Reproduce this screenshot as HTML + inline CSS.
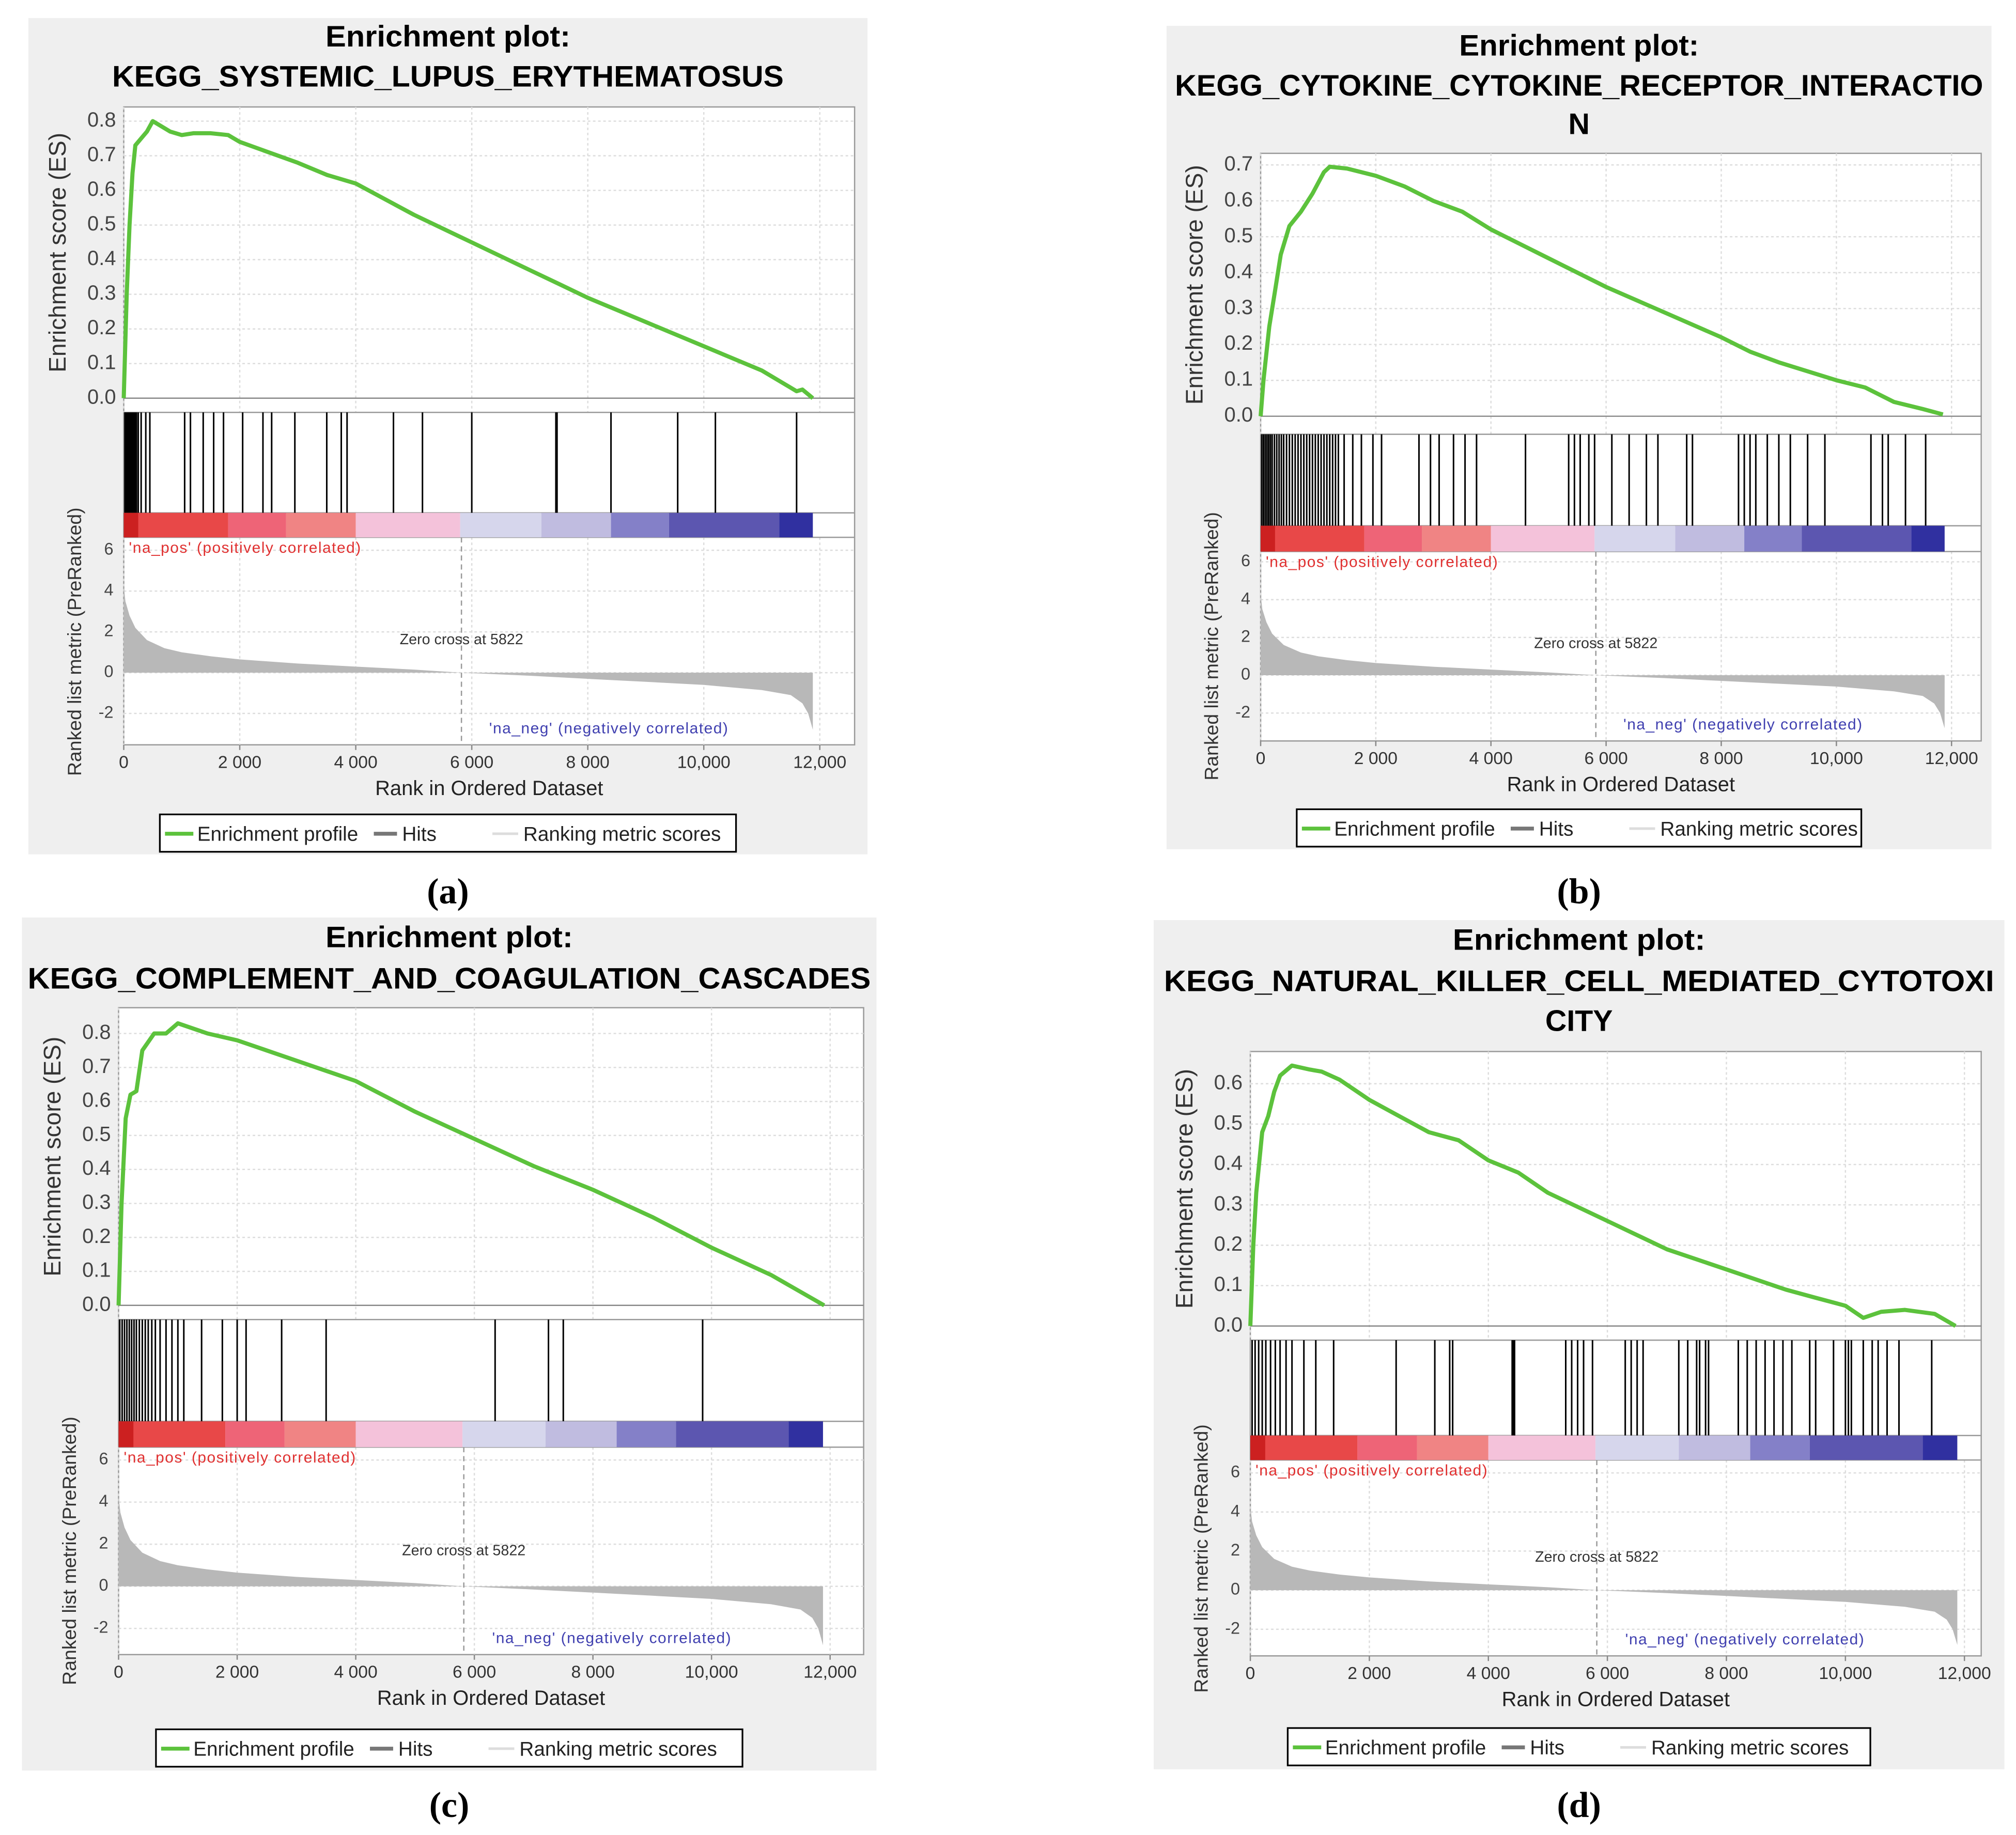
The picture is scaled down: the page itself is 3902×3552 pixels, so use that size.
<!DOCTYPE html>
<html><head><meta charset="utf-8"><style>
html,body{margin:0;padding:0;background:#fff}
svg{display:block}
text{font-family:"Liberation Sans",sans-serif}
text.cap{font-family:"Liberation Serif",serif}
</style></head><body>
<svg id="fig" width="3902" height="3552" viewBox="0 0 1564 1424" preserveAspectRatio="none" xmlns="http://www.w3.org/2000/svg"></svg>
<script>
// ---- data ----
const metricRanks=[0,30,100,200,400,700,1000,1500,2000,3000,4000,5000,5822,7000,8000,9000,10000,11000,11500,11700,11800,11880];
const metricVals=[4.3,3.5,2.8,2.2,1.6,1.2,1.0,0.8,0.65,0.45,0.3,0.15,0,-0.15,-0.3,-0.45,-0.6,-0.85,-1.1,-1.5,-2.0,-2.8];
const barStarts=[0,1800,2800,4000,5800,7200,8400,9400,11300];
const barEnds=[1800,2800,4000,5800,7200,8400,9400,11300,11880];
const barColors=["#e84848","#ee6477","#f08484","#f4c2da","#d6d6ec","#c0bce0","#8480c8","#5c56b0","#3030a0"];
const xTicks=[0,2000,4000,6000,8000,10000,12000];
const xTickLabels=["0","2 000","4 000","6 000","8 000","10,000","12,000"];
const metricTicks=[6,4,2,0,-2];

const esRankA=[0,50,100,150,200,300,400,500,800,1000,1200,1500,1800,2000,2500,3000,3500,4000,5000,6000,7000,7500,8000,9000,10000,11000,11600,11700,11880];
const esValA=[0,0.3,0.5,0.65,0.73,0.75,0.77,0.8,0.77,0.76,0.765,0.765,0.76,0.74,0.71,0.68,0.645,0.62,0.53,0.45,0.37,0.33,0.29,0.22,0.15,0.08,0.02,0.025,0];
const hitsA=[20,40,60,80,100,120,140,160,180,200,220,250,300,380,450,1050,1150,1370,1550,1720,2050,2400,2550,2950,3500,3750,3850,4650,5150,6000,7450,7470,8400,9550,10200,11600];
const esTicksA=[0,0.1,0.2,0.3,0.4,0.5,0.6,0.7,0.8];

const esRankB=[0,50,150,250,350,500,700,900,1100,1200,1500,2000,2500,3000,3500,4000,5000,6000,7000,8000,8500,9000,10000,10500,11000,11500,11850];
const esValB=[0,0.1,0.25,0.35,0.45,0.53,0.57,0.62,0.68,0.695,0.69,0.67,0.64,0.6,0.57,0.52,0.44,0.36,0.29,0.22,0.18,0.15,0.1,0.08,0.04,0.02,0.005];
const hitsB=[20,50,80,110,140,170,200,240,280,320,360,400,450,500,550,600,650,700,750,800,850,900,950,1000,1050,1100,1150,1200,1250,1300,1350,1450,1600,1750,1950,2100,2750,2950,3100,3350,3550,3750,4600,5350,5450,5550,5700,5800,6100,6400,6700,6900,7400,7500,8300,8400,8500,8600,8800,9000,9200,9500,9800,10600,10800,10900,11200,11550];
const esTicksB=[0,0.1,0.2,0.3,0.4,0.5,0.6,0.7];

const esRankC=[0,50,120,200,300,400,600,800,1000,1500,2000,2500,3000,4000,5000,6000,7000,8000,9000,10000,11000,11900];
const esValC=[0,0.3,0.55,0.62,0.63,0.75,0.8,0.8,0.83,0.8,0.78,0.75,0.72,0.66,0.57,0.49,0.41,0.34,0.26,0.17,0.09,0];
const hitsC=[20,60,100,140,180,220,260,300,350,400,450,500,560,620,700,800,900,1000,1100,1400,1750,2000,2150,2750,3500,6350,7250,7500,9850];
const esTicksC=[0,0.1,0.2,0.3,0.4,0.5,0.6,0.7,0.8];

const esRankD=[0,50,100,200,300,400,500,700,1000,1200,1500,2000,2500,3000,3500,4000,4500,5000,6000,7000,8000,9000,9500,10000,10300,10600,11000,11500,11850];
const esValD=[0,0.2,0.33,0.48,0.52,0.58,0.62,0.645,0.635,0.63,0.61,0.56,0.52,0.48,0.46,0.41,0.38,0.33,0.26,0.19,0.14,0.09,0.07,0.05,0.02,0.035,0.04,0.03,0];
const hitsD=[30,80,140,200,260,340,420,500,600,700,900,1100,1400,2450,3100,3350,3400,4400,4420,4440,5300,5400,5500,5600,5750,6300,6400,6500,6600,7200,7350,7500,7550,7650,7700,8200,8350,8500,8650,8800,8950,9100,9400,9500,9800,10000,10050,10100,10300,10450,10550,10700,10900,11450];
const esTicksD=[0,0.1,0.2,0.3,0.4,0.5,0.6];

const svg=document.getElementById('fig');
const NS="http://www.w3.org/2000/svg";
function mk(tag,attrs,parent,txt){const e=document.createElementNS(NS,tag);for(const k in attrs)e.setAttribute(k,attrs[k]);if(txt!==undefined)e.textContent=txt;(parent||svg).appendChild(e);return e;}

function panel(P){
  const g=mk('g',{});
  
  
  const bg=mk('rect',{x:P.bx,y:P.by,width:P.bw,height:P.bh,fill:'#efefef'},g);
  
  
  const cx=P.bx+P.bw/2;
  P.titles.forEach((t,i)=>{
    const at={x:cx,y:P.ty[i],'text-anchor':'middle','font-size':23,'font-weight':'bold',fill:'#000','dominant-baseline':'middle'};
    if(P.tl[i]){at.textLength=P.tl[i];at.lengthAdjust='spacingAndGlyphs';}
    const te=mk('text',at,g,t);
    
    
  });
  const x=r=>P.x0+(r/12000)*(P.x12-P.x0);
  const yEs=v=>P.es0-(v/P.esTop)*(P.es0-P.esTopY);
  const yM=v=>P.m0-(v/6)*(P.m0-P.m6);
  mk('rect',{x:P.x0,y:P.top,width:P.right-P.x0,height:P.bot-P.top,fill:'#fff',stroke:'#9a9a9a','stroke-width':1},g);
  xTicks.forEach(t=>{mk('line',{x1:x(t),x2:x(t),y1:P.top,y2:P.hitTop,stroke:'#ddd','stroke-dasharray':'2,2'},g);
    mk('line',{x1:x(t),x2:x(t),y1:P.barBot,y2:P.bot,stroke:'#ddd','stroke-dasharray':'2,2'},g);});
  P.esTicks.forEach(t=>{mk('line',{x1:P.x0,x2:P.right,y1:yEs(t),y2:yEs(t),stroke:'#ddd','stroke-dasharray':'2,2'},g);
    const tl=mk('text',{x:P.x0-6,y:yEs(t),'text-anchor':'end','dominant-baseline':'middle','font-size':16,fill:'#444'},g,t.toFixed(1));
    
    });
  metricTicks.forEach(t=>{mk('line',{x1:P.x0,x2:P.right,y1:yM(t),y2:yM(t),stroke:'#ddd','stroke-dasharray':'2,2'},g);
    const tl=mk('text',{x:P.x0-8,y:yM(t),'text-anchor':'end','dominant-baseline':'middle','font-size':13,fill:'#444'},g,String(t));
    
    });
  [P.hitTop,P.barTop,P.barBot].forEach(yy=>mk('line',{x1:P.x0,x2:P.right,y1:yy,y2:yy,stroke:'#9a9a9a'},g));
  mk('line',{x1:P.x0,x2:P.right,y1:P.es0,y2:P.es0,stroke:'#888'},g);
  const pts=P.esR.map((r,i)=>x(r).toFixed(1)+','+yEs(P.esV[i]).toFixed(1)).join(' ');
  const pl=mk('polyline',{points:pts,fill:'none',stroke:'#5cc23c','stroke-width':3.2,'stroke-linejoin':'round'},g);
  
  
  P.hits.forEach(h=>{const l=mk('line',{x1:x(h),x2:x(h),y1:P.hitTop,y2:P.barTop,stroke:'#000','stroke-width':1.2},g);
    
    });
  barStarts.forEach((s,i)=>{const r=mk('rect',{x:x(s),y:P.barTop,width:x(barEnds[i])-x(s),height:P.barBot-P.barTop,fill:barColors[i]},g);
    
    });
  mk('rect',{x:x(0),y:P.barTop,width:x(250)-x(0),height:P.barBot-P.barTop,fill:'#cc2020'},g);
  let d='M'+x(0)+','+yM(0);
  metricRanks.forEach((r,i)=>{d+=' L'+x(r).toFixed(1)+','+yM(metricVals[i]).toFixed(1);});
  d+=' L'+x(metricRanks[metricRanks.length-1])+','+yM(0)+' Z';
  const ar=mk('path',{d:d,fill:'#b8b8b8'},g);
  
  
  mk('line',{x1:x(5822),x2:x(5822),y1:P.barBot,y2:P.bot,stroke:'#999','stroke-dasharray':'4,3'},g);
  const zc=mk('text',{x:x(5822),y:P.zcY,'text-anchor':'middle','font-size':11.5,fill:'#333'},g,'Zero cross at 5822');
  
  
  const pos=mk('text',{x:P.x0+4,y:P.barBot+12,'font-size':12,fill:'#e03030','letter-spacing':'0.6'},g,"'na_pos' (positively correlated)");
  
  
  const neg=mk('text',{x:x(6300),y:P.bot-9,'font-size':12,fill:'#4040b0','letter-spacing':'0.6'},g,"'na_neg' (negatively correlated)");
  
  
  xTicks.forEach((t,i)=>{mk('line',{x1:x(t),x2:x(t),y1:P.bot,y2:P.bot+4,stroke:'#888'},g);
    const tl=mk('text',{x:x(t),y:P.bot+18,'text-anchor':'middle','font-size':13.5,fill:'#333'},g,xTickLabels[i]);
    
    });
  const xt=mk('text',{x:(P.x0+P.right)/2,y:P.bot+39,'text-anchor':'middle','font-size':16,fill:'#222'},g,'Rank in Ordered Dataset');
  
  
  const ey=(P.top+P.es0)/2, ex=P.x0-45;
  const et=mk('text',{x:ex,y:ey,'text-anchor':'middle','font-size':18.5,fill:'#333',transform:`rotate(-90 ${ex} ${ey})`},g,'Enrichment score (ES)');
  
  
  const my=(P.barTop+P.bot)/2+10, mx=P.x0-33;
  const mt=mk('text',{x:mx,y:my,'text-anchor':'middle','font-size':15,fill:'#333',transform:`rotate(-90 ${mx} ${my})`},g,'Ranked list metric (PreRanked)');
  
  
  const lg=mk('g',{},g);
  
  
  mk('rect',{x:P.lx,y:P.ly,width:P.lw,height:29,fill:'#fff',stroke:'#000','stroke-width':1.3},lg);
  const ly=P.ly+15;
  mk('line',{x1:P.lx+4,x2:P.lx+26,y1:ly,y2:ly,stroke:'#5cc23c','stroke-width':3},lg);
  const e1=mk('text',{x:P.lx+29,y:ly+5.5,'font-size':15.5,fill:'#222'},lg,'Enrichment profile');
  
  
  mk('line',{x1:P.lx+166,x2:P.lx+184,y1:ly,y2:ly,stroke:'#777','stroke-width':3},lg);
  const e2=mk('text',{x:P.lx+188,y:ly+5.5,'font-size':15.5,fill:'#222'},lg,'Hits');
  
  
  mk('line',{x1:P.lx+258,x2:P.lx+278,y1:ly,y2:ly,stroke:'#ddd','stroke-width':2},lg);
  const e3=mk('text',{x:P.lx+282,y:ly+5.5,'font-size':15.5,fill:'#222'},lg,'Ranking metric scores');
  
  
  const cap=mk('text',{x:cx,y:P.capY,'text-anchor':'middle','font-size':28,fill:'#000','font-weight':'bold',class:'cap'},svg,'('+P.id+')');
  
  
}

panel({id:'a',bx:22,by:14,bw:651,bh:649,titles:['Enrichment plot:','KEGG_SYSTEMIC_LUPUS_ERYTHEMATOSUS'],ty:[30,61],tl:[190,521],
  x0:96,x12:636,right:663,top:83,bot:578,hitTop:320,barTop:398,barBot:417,es0:309,esTop:0.8,esTopY:94,m0:522,m6:427,zcY:500,
  esR:esRankA,esV:esValA,hits:hitsA,esTicks:esTicksA,lx:124,ly:632,lw:447,capY:701});
panel({id:'b',bx:905,by:20,bw:640,bh:639,titles:['Enrichment plot:','KEGG_CYTOKINE_CYTOKINE_RECEPTOR_INTERACTIO','N'],ty:[37,68,98],tl:[186,627,0],
  x0:978,x12:1514,right:1537,top:119,bot:575,hitTop:337,barTop:408,barBot:428,es0:323,esTop:0.7,esTopY:128,m0:524,m6:436,zcY:503,
  esR:esRankB,esV:esValB,hits:hitsB,esTicks:esTicksB,lx:1006,ly:628,lw:438,capY:701});
panel({id:'c',bx:17,by:712,bw:663,bh:662,titles:['Enrichment plot:','KEGG_COMPLEMENT_AND_COAGULATION_CASCADES'],ty:[729,761],tl:[192,654],
  x0:92,x12:644,right:670,top:782,bot:1284,hitTop:1024,barTop:1103,barBot:1123,es0:1013,esTop:0.8,esTopY:802,m0:1231,m6:1133,zcY:1207,
  esR:esRankC,esV:esValC,hits:hitsC,esTicks:esTicksC,lx:121,ly:1342,lw:455,capY:1410});
panel({id:'d',bx:895,by:714,bw:660,bh:659,titles:['Enrichment plot:','KEGG_NATURAL_KILLER_CELL_MEDIATED_CYTOTOXI','CITY'],ty:[731,763,794],tl:[196,644,0],
  x0:970,x12:1524,right:1537,top:816,bot:1285,hitTop:1040,barTop:1114,barBot:1133,es0:1029,esTop:0.6,esTopY:841,m0:1234,m6:1143,zcY:1212,
  esR:esRankD,esV:esValD,hits:hitsD,esTicks:esTicksD,lx:999,ly:1341,lw:452,capY:1410});
</script>
</body></html>
